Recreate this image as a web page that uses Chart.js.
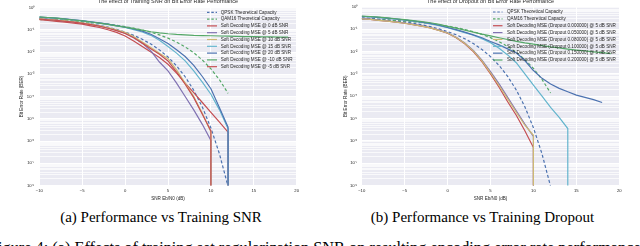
<!DOCTYPE html>
<html><head><meta charset="utf-8">
<script src="https://cdn.jsdelivr.net/npm/chart.js@4.4.1/dist/chart.umd.min.js"></script>
<style>
html,body{margin:0;padding:0;background:#fff;width:640px;height:246px;overflow:hidden;position:relative}
canvas{position:absolute;top:0}
#ca{left:0}
#cb{left:320px}
.cap{position:absolute;font-family:"Liberation Serif","Times New Roman",serif;white-space:nowrap;color:#000}
</style></head><body>
<canvas id="ca" width="320" height="201"></canvas>
<canvas id="cb" width="320" height="201"></canvas>
<div class="cap" style="top:210px;left:0;width:322px;text-align:center;font-size:15px;line-height:15px">(a) Performance vs Training SNR</div>
<div class="cap" style="top:210px;left:320px;width:325px;text-align:center;font-size:15px;line-height:15px">(b) Performance vs Training Dropout</div>
<div class="cap" style="top:240.4px;left:-11px;font-size:16.3px;line-height:16.3px">Figure 4: (a) Effects of training set regularization SNR on resulting encoding error rate performance</div>
<script>
// ---------------- data ----------------
const snrDb = [-10,-9,-8,-7,-6,-5,-4,-3,-2,-1,0,1,2,3,4,5,6,7,8,9,10,11,12,13,14,15,16,17,18,19];
const xTickValues = [-10,-5,0,5,10,15,20];
const yTickLabels = ['10⁰','10⁻¹','10⁻²','10⁻³','10⁻⁴','10⁻⁵','10⁻⁶','10⁻⁷','10⁻⁸'];

const titleA = 'The effect of Training SNR on Bit Error Rate Performance';
const titleB = 'The effect of Dropout on Bit Error Rate Performance';
const xAxisTitle = 'SNR Eb/N0 (dB)';
const yAxisTitle = 'Bit Error Rate (BER)';

const qpskTheory  = [0.327,0.308,0.287,0.264,0.239,0.213,0.186,0.158,0.131,0.104,0.0786,0.0563,0.0375,0.0229,0.0125,0.00595,0.00239,7.73e-4,1.91e-4,3.36e-5,3.87e-6,2.61e-7,9.0e-9];
const qam16Theory = [0.291,0.282,0.271,0.259,0.245,0.231,0.215,0.197,0.179,0.160,0.139,0.118,0.0976,0.0775,0.0586,0.0419,0.0279,0.0170,0.00924,0.00439,0.00176,5.64e-4,1.39e-4];

// (a) training SNR   (0 = zero bit errors measured)
const mseTrain0dB   = [0.282,0.263,0.240,0.219,0.200,0.178,0.151,0.126,0.100,0.0759,0.0525,0.0316,0.0178,0.0100,5.62e-3,2.82e-3,1.12e-3,3.98e-4,1.48e-4,5.37e-5,1.95e-5,7.08e-6,2.51e-6,0];
const mseTrain5dB   = [0.316,0.295,0.269,0.245,0.224,0.200,0.174,0.148,0.120,0.0955,0.0708,0.0447,0.0251,0.0112,3.55e-3,1.41e-3,3.98e-4,1.0e-4,2.51e-5,5.62e-6,1.07e-6,0];
const mseTrain10dB  = [0.316,0.295,0.275,0.251,0.229,0.204,0.178,0.151,0.126,0.100,0.0759,0.0501,0.0282,0.0158,8.91e-3,5.01e-3,1.58e-3,3.98e-4,1.0e-4,1.78e-5,2.51e-6,0];
const mseTrain15dB  = [0.363,0.347,0.324,0.302,0.275,0.251,0.224,0.200,0.174,0.148,0.126,0.102,0.0794,0.0562,0.0339,0.0178,8.91e-3,3.98e-3,1.41e-3,4.47e-4,1.26e-4,2.51e-5,3.55e-6,0];
const mseTrain20dB  = [0.372,0.355,0.331,0.309,0.282,0.257,0.229,0.204,0.178,0.155,0.132,0.110,0.0871,0.0631,0.0398,0.0240,0.0126,6.31e-3,2.51e-3,7.94e-4,2.24e-4,3.16e-5,4.17e-6,0];
const mseTrainM10dB = [0.380,0.355,0.331,0.302,0.275,0.251,0.224,0.200,0.174,0.151,0.132,0.112,0.0955,0.0813,0.0724,0.0661,0.0617,0.0589,0.0562,0.0550,0.0537,0.0525,0.0513,0.0501,0.0490,0.0490,0.0479,0.0479,0.0468,0.0468];
const mseTrainM5dB  = [0.302,0.282,0.263,0.240,0.219,0.195,0.170,0.145,0.117,0.0912,0.0676,0.0437,0.0251,0.0141,7.94e-3,3.98e-3,1.26e-3,3.55e-4,8.91e-5,1.58e-5,2.82e-6,0];

// (b) dropout @ 5 dB SNR
const dropout000 = [0.295,0.275,0.251,0.229,0.209,0.186,0.162,0.138,0.115,0.0891,0.0661,0.0417,0.0224,0.0100,3.55e-3,1.0e-3,2.51e-4,5.62e-5,1.41e-5,2.82e-6,5.01e-7,0];
const dropout005 = [0.302,0.282,0.257,0.234,0.214,0.191,0.166,0.141,0.117,0.0912,0.0692,0.0437,0.0240,0.0112,4.17e-3,1.26e-3,3.55e-4,8.91e-5,2.24e-5,5.62e-6,1.58e-6,0];
const dropout008 = [0.295,0.275,0.251,0.229,0.209,0.186,0.162,0.138,0.115,0.0891,0.0676,0.0427,0.0234,0.0107,3.80e-3,1.12e-3,3.02e-4,7.59e-5,1.91e-5,5.01e-6,1.78e-6,0];
const dropout010 = [0.372,0.355,0.331,0.309,0.282,0.257,0.229,0.200,0.174,0.145,0.117,0.0912,0.0708,0.0537,0.0380,0.0251,0.0141,7.08e-3,3.16e-3,1.0e-3,3.16e-4,1.0e-4,3.16e-5,1.12e-5,3.55e-6,0];
const dropout015 = [0.380,0.363,0.339,0.316,0.288,0.263,0.234,0.209,0.182,0.151,0.120,0.0955,0.0741,0.0562,0.0417,0.0282,0.0200,0.0132,8.91e-3,3.98e-3,1.41e-3,6.31e-4,3.55e-4,2.24e-4,1.58e-4,1.12e-4,8.91e-5,7.08e-5,5.25e-5];
const dropout020 = [0.389,0.372,0.347,0.324,0.295,0.269,0.245,0.219,0.195,0.166,0.135,0.112,0.0912,0.0741,0.0603,0.0501,0.0417,0.0347,0.0288,0.0245,0.0214,0.0186,0.0162,0.0145,0.0129,0.0117,0.0107,9.77e-3,8.91e-3,8.13e-3];

const labelsA = ['QPSK Theoretical Capacity','QAM16 Theoretical Capacity',
  'Soft Decoding MSE @ 0 dB SNR','Soft Decoding MSE @ 5 dB SNR','Soft Decoding MSE @ 10 dB SNR',
  'Soft Decoding MSE @ 15 dB SNR','Soft Decoding MSE @ 20 dB SNR','Soft Decoding MSE @ -10 dB SNR',
  'Soft Decoding MSE @ -5 dB SNR'];
const labelsB = ['QPSK Theoretical Capacity','QAM16 Theoretical Capacity',
  'Soft Decoding MSE (Dropout 0.000000) @ 5 dB SNR','Soft Decoding MSE (Dropout 0.050000) @ 5 dB SNR',
  'Soft Decoding MSE (Dropout 0.080000) @ 5 dB SNR','Soft Decoding MSE (Dropout 0.100000) @ 5 dB SNR',
  'Soft Decoding MSE (Dropout 0.150000) @ 5 dB SNR','Soft Decoding MSE (Dropout 0.200000) @ 5 dB SNR'];

// ---------------- styling ----------------
const C = {blue:'#4C72B0', green:'#55A868', red:'#C44E52', purple:'#8172B2', yellow:'#CCB974', cyan:'#64B5CD'};
const FONT = '"Liberation Sans", Arial, sans-serif';

function toPoints(vals){
  const pts = [];
  for (let i = 0; i < snrDb.length; i++){
    const v = vals[i];
    if (v === undefined || v === null) break;
    if (v === 0){ pts.push({x: snrDb[i-1], y: 1e-12}); break; } // zero BER: drops off the log axis
    pts.push({x: snrDb[i], y: v});
  }
  return pts;
}
function ds(label, vals, color, dashed, i){
  return {label, data: toPoints(vals), borderColor: color, backgroundColor: color,
    borderWidth: 1.2, borderDash: dashed ? [3,2.2] : [], pointRadius: 0, tension: 0, fill: false, order: -i};
}

const isDecade = v => { const e = Math.round(Math.log10(v)); return Math.abs(v / Math.pow(10, e) - 1) < 1e-6; };

const decorPlugin = {
  id: 'decor',
  beforeDraw(chart){
    const {ctx, chartArea: a} = chart;
    ctx.save(); ctx.fillStyle = '#EAEAF2';
    ctx.fillRect(a.left, a.top, a.right - a.left, a.bottom - a.top); ctx.restore();
  },
  afterDraw(chart, args, o){
    const {ctx, chartArea: a} = chart;
    ctx.save();
    ctx.fillStyle = '#262626';
    ctx.font = '5.5px ' + FONT; ctx.textAlign = 'center'; ctx.textBaseline = 'alphabetic';
    ctx.fillText(o.title, (a.left + a.right) / 2, 3);
    ctx.font = '4.6px ' + FONT; ctx.textAlign = 'left'; ctx.textBaseline = 'middle';
    chart.data.datasets.forEach((d, i) => {
      const y = o.y0 + i * o.dy;
      ctx.strokeStyle = d.borderColor; ctx.lineWidth = d.borderWidth;
      ctx.setLineDash(d.borderDash.length ? [2.5,1.8] : []);
      ctx.beginPath(); ctx.moveTo(o.x0, y); ctx.lineTo(o.x0 + o.len, y); ctx.stroke();
      ctx.setLineDash([]);
      ctx.fillStyle = '#262626';
      ctx.fillText(d.label, o.x0 + o.len + o.gap, y);
    });
    ctx.restore();
  }
};

function makeChart(id, datasets, pad, yWidth, yPad, legend){
  return new Chart(document.getElementById(id), {
    type: 'line',
    data: {datasets},
    plugins: [decorPlugin],
    options: {
      responsive: false, animation: false, events: [],
      layout: {padding: pad},
      plugins: {legend: {display: false}, tooltip: {enabled: false}, title: {display: false}, decor: legend},
      scales: {
        x: {type: 'linear', min: -10, max: 20,
          afterBuildTicks: s => { s.ticks = xTickValues.map(v => ({value: v})); },
          afterFit: s => { s.height = 15.5; },
          border: {display: false},
          grid: {color: '#ffffff', lineWidth: 1, drawTicks: false},
          ticks: {autoSkip: false, maxRotation: 0, padding: 2.5, color: '#262626', font: {family: FONT, size: 4.2},
            callback: v => String(v).replace('-', '\u2212')},
          title: {display: true, text: xAxisTitle, color: '#262626', font: {family: FONT, size: 4.6}, padding: {top: 0, bottom: 0}}
        },
        y: {type: 'logarithmic', min: 1e-8, max: 1,
          afterBuildTicks: s => {
            const t = [];
            for (let e = -8; e <= 0; e++) for (let k = 1; k <= 9; k++) { if (e === 0 && k > 1) break; t.push({value: k * Math.pow(10, e)}); }
            s.ticks = t;
          },
          afterFit: s => { s.width = yWidth; },
          border: {display: false},
          grid: {drawTicks: false, color: '#ffffff', lineWidth: c => isDecade(c.tick.value) ? 1 : 0.7},
          ticks: {autoSkip: false, padding: yPad, color: '#262626', font: {family: FONT, size: 4.2},
            callback: v => isDecade(v) ? yTickLabels[-Math.round(Math.log10(v))] : ''},
          title: {display: true, text: yAxisTitle, color: '#262626', font: {family: FONT, size: 4.6}, padding: {top: 0, bottom: 0}}
        }
      }
    }
  });
}

const dsA = [
  ds(labelsA[0], qpskTheory, C.blue, true, 0),
  ds(labelsA[1], qam16Theory, C.green, true, 1),
  ds(labelsA[2], mseTrain0dB, C.red, false, 2),
  ds(labelsA[3], mseTrain5dB, C.purple, false, 3),
  ds(labelsA[4], mseTrain10dB, C.yellow, false, 4),
  ds(labelsA[5], mseTrain15dB, C.cyan, false, 5),
  ds(labelsA[6], mseTrain20dB, C.blue, false, 6),
  ds(labelsA[7], mseTrainM10dB, C.green, false, 7),
  ds(labelsA[8], mseTrainM5dB, C.red, false, 8)
];
const dsB = [
  ds(labelsB[0], qpskTheory, C.blue, true, 0),
  ds(labelsB[1], qam16Theory, C.green, true, 1),
  ds(labelsB[2], dropout000, C.red, false, 2),
  ds(labelsB[3], dropout005, C.purple, false, 3),
  ds(labelsB[4], dropout008, C.yellow, false, 4),
  ds(labelsB[5], dropout010, C.cyan, false, 5),
  ds(labelsB[6], dropout015, C.blue, false, 6),
  ds(labelsB[7], dropout020, C.green, false, 7)
];

makeChart('ca', dsA, {left: 19, right: 23.3, top: 5, bottom: 0}, 20.3, 5,
  {title: titleA, x0: 207, len: 10, gap: 3.7, y0: 12.3, dy: 6.8});
makeChart('cb', dsB, {left: 22.7, right: 20.7, top: 5, bottom: 0}, 19, 4.4,
  {title: titleB, x0: 173, len: 9.5, gap: 4.5, y0: 12, dy: 6.86});
</script>
</body></html>
